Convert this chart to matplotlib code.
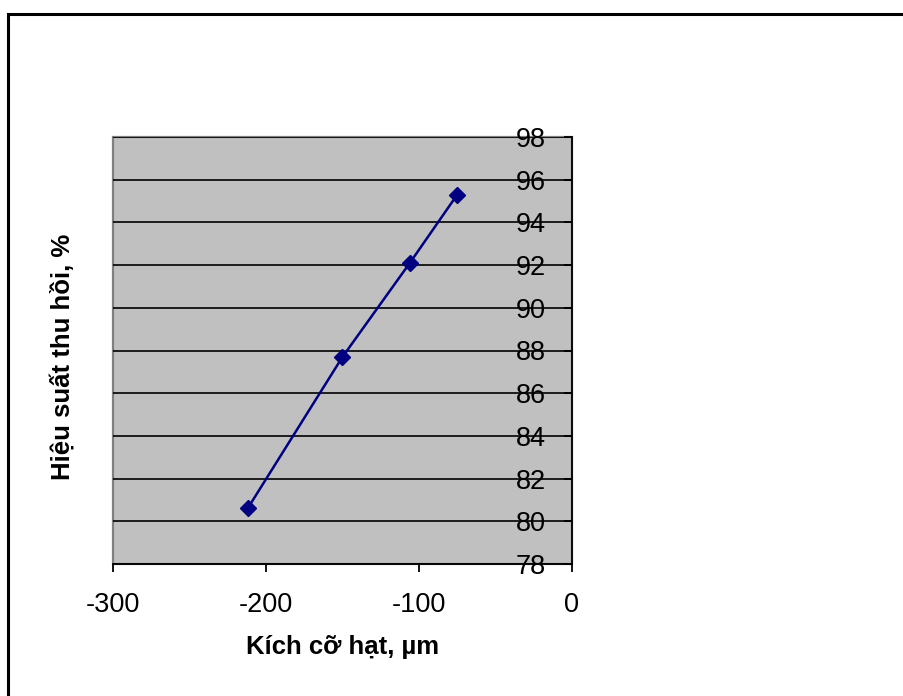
import matplotlib
matplotlib.use('Agg')
import matplotlib.pyplot as plt
from matplotlib.patches import Rectangle

# Recovery vs. particle size (sieve fractions, um)
particle_size = [-212, -150, -106, -75]
recovery = [80.6, 87.7, 92.1, 95.3]

x_ticks = [-300, -200, -100, 0]
y_ticks = list(range(78, 100, 2))

plt.rcParams['font.family'] = ['Liberation Sans', 'DejaVu Sans']
plt.rcParams['axes.unicode_minus'] = False

fig = plt.figure(figsize=(9.04, 6.96), dpi=100)

# chart frame, runs off the right and bottom edges
fig.add_artist(Rectangle((8 / 904, -0.05), 1.1, 1.05 - 14 / 696,
                         transform=fig.transFigure, fill=False,
                         edgecolor='black', linewidth=2.2))

ax = fig.add_axes([113 / 904, 132 / 696, 459 / 904, 427 / 696])
ax.set_facecolor('#c0c0c0')
ax.patch.set_edgecolor('#808080')
ax.patch.set_linewidth(1.6)

ax.set_xlim(-300, 0)
ax.set_ylim(78, 98)
ax.set_xticks(x_ticks)
ax.set_yticks(y_ticks)

# value axis crosses at x = 0
ax.spines['left'].set_position(('data', 0))
ax.spines['left'].set_color('black')
ax.spines['left'].set_linewidth(1.3)
ax.spines['bottom'].set_color('black')
ax.spines['bottom'].set_linewidth(1.3)
ax.spines['top'].set_visible(False)
ax.spines['right'].set_visible(False)

ax.yaxis.grid(True, color='black', linewidth=1.2)
ax.set_axisbelow(True)

ax.tick_params(axis='x', direction='out', length=6, width=1.3,
               labelsize=19.5, pad=14)
ax.tick_params(axis='y', direction='out', length=6, width=1.3,
               labelsize=19.5, pad=13)

ax.plot(particle_size, recovery, color='#000080', linewidth=1.8,
        marker='D', markersize=8.5, zorder=5)

fig.text(343 / 904, 1 - 647 / 696, 'Kích cỡ hạt, µm', ha='center',
         va='center', fontsize=18.5, fontweight='bold')
fig.text(62 / 904, 1 - 357 / 696, 'Hiệu suất thu hồi, %', ha='center',
         va='center', rotation=90, fontsize=18.5, fontweight='bold')

fig.savefig('out.png', dpi=100)
